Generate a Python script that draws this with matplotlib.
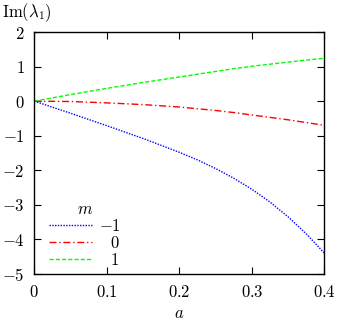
import numpy as np
import matplotlib
matplotlib.use("Agg")
import matplotlib.pyplot as plt

plt.rcParams['mathtext.fontset'] = 'cm'
plt.rcParams['font.family'] = 'serif'

# data
a = [0.0, 0.05, 0.10, 0.15, 0.20, 0.225, 0.25, 0.275, 0.30, 0.325, 0.35, 0.375, 0.40]
im_m_neg1 = [0.0, -0.35, -0.71, -1.08, -1.48, -1.70, -1.95, -2.23, -2.55, -2.92, -3.35, -3.84, -4.40]
im_m_0    = [0.0, -0.01, -0.05, -0.10, -0.17, -0.22, -0.27, -0.33, -0.40, -0.47, -0.54, -0.62, -0.70]
im_m_1    = [0.0, 0.19, 0.37, 0.54, 0.70, 0.78, 0.86, 0.94, 1.01, 1.07, 1.13, 1.19, 1.24]

xticks = [0, 0.1, 0.2, 0.3, 0.4]
xticklabels = ['$0$', '$0.1$', '$0.2$', '$0.3$', '$0.4$']
yticks = [-5, -4, -3, -2, -1, 0, 1, 2]
yticklabels = ['$-5$', '$-4$', '$-3$', '$-2$', '$-1$', '$0$', '$1$', '$2$']

fig = plt.figure(figsize=(3.41, 3.23), dpi=100)
ax = fig.add_axes([0.1006, 0.1517, 0.851, 0.7492])

ax.plot(a, im_m_neg1, color='#0000ff', lw=1.0, ls=(0, (1, 1)),
        label=r'$-1$')
ax.plot(a, im_m_0, color='#ff0000', lw=1.0, ls=(0, (5, 2, 1, 2)),
        label=r'$\hspace{0.78}0$')
ax.plot(a, im_m_1, color='#00ff00', lw=1.0, ls=(0, (3, 1.5)),
        label=r'$\hspace{0.78}1$')

ax.set_xlim(0, 0.4)
ax.set_ylim(-5, 2)
ax.set_xticks(xticks)
ax.set_xticklabels(xticklabels)
ax.set_yticks(yticks)
ax.set_yticklabels(yticklabels)
ax.tick_params(direction='in', top=True, right=True, length=5, width=0.8,
               labelsize=12, pad=7)
for s in ax.spines.values():
    s.set_linewidth(1.0)

ax.set_xlabel(r'$a$', fontsize=12, labelpad=3)
fig.text(0.005, 0.96, r'$\mathrm{Im}(\lambda_1)$', fontsize=12,
         ha='left', va='center')

leg = ax.legend(title=r'$m$', loc='lower left', bbox_to_anchor=(0.01, -0.028),
                frameon=False, fontsize=12, title_fontsize=12,
                handlelength=2.6, handletextpad=0.4, labelspacing=0.0,
                borderpad=0.2)

fig.savefig("out.png", dpi=100)
